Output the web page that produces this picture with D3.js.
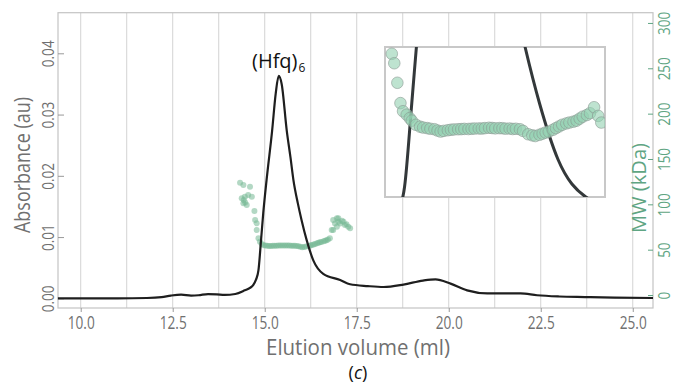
<!DOCTYPE html>
<html>
<head>
<meta charset="utf-8">
<script src="https://cdn.jsdelivr.net/npm/d3@7"></script>
<style>
  html, body { margin: 0; padding: 0; background: #fff; }
  svg { display: block; }
  text { font-family: "Open Sans", sans-serif; }
</style>
</head>
<body>
<svg id="chart" width="677" height="386"></svg>
<script>
// ---------------- DATA ----------------
// Absorbance trace (elution volume in ml, absorbance in au)
const traceVolume = [9.38, 10.0, 11.0, 11.8, 12.2, 12.45, 12.73, 13.0, 13.2, 13.46, 13.7, 13.91, 14.2, 14.46, 14.6, 14.69, 14.76, 14.83, 14.9, 14.96, 15.05, 15.2, 15.3, 15.38, 15.46, 15.6, 15.7, 15.78, 15.9, 16.0, 16.14, 16.32, 16.59, 17.05, 17.32, 17.8, 18.23, 18.77, 19.3, 19.64, 20.05, 20.5, 21.05, 21.6, 21.95, 22.4, 23.0, 23.7, 24.5, 25.55];
const traceAbs = [0.0000, 0.0000, 0.0000, 0.00005, 0.0002, 0.00045, 0.0006, 0.00045, 0.0005, 0.0007, 0.00065, 0.00055, 0.0007, 0.0013, 0.0017, 0.0022, 0.0030, 0.0046, 0.0095, 0.0139, 0.0193, 0.0273, 0.0335, 0.0363, 0.0350, 0.0273, 0.0230, 0.0193, 0.0155, 0.0128, 0.0095, 0.0062, 0.0040, 0.0030, 0.0023, 0.0020, 0.00185, 0.00225, 0.0029, 0.0031, 0.0024, 0.0013, 0.0008, 0.0008, 0.0008, 0.0005, 0.0003, 0.0002, 0.0001, 0.00005];

// Molar-mass points in the main panel (ml, kDa)
const mwVolume = [14.33, 14.42, 14.60, 14.375, 14.46, 14.55, 14.65, 14.42, 14.51, 14.43, 14.47, 14.72, 14.74, 14.78, 14.78, 14.83, 14.87, 14.92, 14.97, 15.02, 15.07, 15.12, 15.17, 15.22, 15.27, 15.32, 15.37, 15.42, 15.47, 15.52, 15.57, 15.62, 15.67, 15.72, 15.77, 15.82, 15.87, 15.92, 15.97, 16.02, 16.07, 16.12, 16.19, 16.24, 16.28, 16.33, 16.37, 16.42, 16.46, 16.5, 16.54, 16.6, 16.64, 16.68, 16.72, 16.77, 16.82, 16.86, 16.91, 16.96, 17.0, 16.86, 17.0, 17.05, 17.14, 17.18, 17.27, 17.32, 16.96, 17.1, 17.22];
const mwValue = [123.9, 121.3, 119.4, 106.6, 108.4, 110.3, 108.4, 101.1, 99.3, 104.8, 102, 92.6, 82.7, 79.1, 71.7, 62.5, 58.8, 56.2, 55, 54.6, 54.4, 54.1, 54, 54.2, 54.4, 54.3, 54.5, 54.6, 54.5, 54.7, 54.6, 54.5, 54.6, 54.3, 54.4, 54.2, 54.1, 53.8, 53.2, 52.6, 52.9, 53.5, 54, 54.6, 55.1, 55.7, 56.2, 57, 57.7, 58.1, 58.5, 59.3, 59.9, 60.5, 61.2, 62.5, 71.7, 82.7, 79, 84.6, 80.8, 71.7, 84.6, 79, 80.8, 77.2, 75.3, 73.6, 75.3, 82, 78];

// Molar-mass points shown in the zoomed inset (ml, kDa)
const insetVolume = [14.706, 14.73, 14.76, 14.79, 14.815, 14.85, 14.88, 14.90, 14.94, 14.98, 15.01, 15.05, 15.08, 15.12, 15.15, 15.18, 15.21, 15.25, 15.28, 15.31, 15.35, 15.38, 15.41, 15.45, 15.48, 15.51, 15.55, 15.58, 15.61, 15.65, 15.68, 15.71, 15.75, 15.78, 15.81, 15.85, 15.88, 15.91, 15.95, 15.98, 16.03, 16.07, 16.1, 16.14, 16.17, 16.2, 16.23, 16.27, 16.3, 16.33, 16.36, 16.4, 16.43, 16.47, 16.5, 16.53, 16.56, 16.6, 16.63, 16.67, 16.71, 16.74];
const insetMW = [122.9, 114.4, 96.8, 78.5, 71.2, 68.1, 65, 62.7, 59, 57.3, 56.5, 56, 55.4, 55, 53.8, 52.9, 53.5, 54.1, 54.5, 54.8, 55, 55.1, 55.3, 55.2, 55.4, 55.6, 55.7, 55.6, 56, 56.3, 56.1, 55.8, 56, 55.9, 55.5, 55.6, 55.2, 55.4, 55, 53.5, 50.5, 49.5, 48.9, 50, 51, 52, 52.8, 54.5, 56, 57.5, 59, 60.2, 61, 61.8, 62.7, 64.5, 66.3, 67.8, 69.4, 74.8, 67, 61];

// Axis ticks
const xTicks = [10.0, 12.5, 15.0, 17.5, 20.0, 22.5, 25.0];
const xGrid = [10.0, 11.25, 12.5, 13.75, 15.0, 16.25, 17.5, 18.75, 20.0, 21.25, 22.5, 23.75, 25.0];
const absTicks = [0.00, 0.01, 0.02, 0.03, 0.04];
const mwTicks = [0, 50, 100, 150, 200, 250, 300];

// ---------------- LAYOUT ----------------
const svg = d3.select("#chart");
const plot = { left: 58, right: 653, top: 12.7, bottom: 308 };
const inset = { left: 385, right: 605, top: 47, bottom: 197 };

const gray = "#707070";
const green = "#5fa583";

const x = d3.scaleLinear().domain([9.383, 25.55]).range([plot.left, plot.right]);
const yAbs = d3.scaleLinear().domain([-0.00158, 0.04663]).range([plot.bottom, plot.top]);
const yMW = d3.scaleLinear().domain([-14.3, 311.3]).range([plot.bottom, plot.top]);

const ix = d3.scaleLinear().domain([14.64, 16.776]).range([inset.left, inset.right]);
const iyAbs = d3.scaleLinear().domain([0.004, 0.0128]).range([inset.bottom, inset.top]);
const iyMW = d3.scaleLinear().domain([-6, 129]).range([inset.bottom, inset.top]);

function condense(sel, len) {
  sel.each(function () {
    d3.select(this).attr("textLength", len).attr("lengthAdjust", "spacingAndGlyphs");
  });
}

// vertical grid lines
svg.append("g").selectAll("line").data(xGrid).join("line")
  .attr("x1", d => x(d)).attr("x2", d => x(d))
  .attr("y1", plot.top).attr("y2", plot.bottom)
  .attr("stroke", "#d3d3d3").attr("stroke-width", 1);

// frame
svg.append("rect")
  .attr("x", plot.left).attr("y", plot.top)
  .attr("width", plot.right - plot.left).attr("height", plot.bottom - plot.top)
  .attr("fill", "none").attr("stroke", "#c4c4c4").attr("stroke-width", 1.2);

// bottom axis
const xAxis = svg.append("g").attr("transform", `translate(0,${plot.bottom})`)
  .call(d3.axisBottom(x).tickValues(xTicks).tickSize(4).tickFormat(d3.format(".1f")));
xAxis.select(".domain").remove();
xAxis.selectAll(".tick line").attr("stroke", "#999");
xAxis.selectAll(".tick text").attr("fill", gray).attr("font-size", 19)
  .attr("font-family", "Open Sans, sans-serif").attr("dy", null).attr("y", 21)
  .call(condense, 27);

// left axis (absorbance)
const yAxisL = svg.append("g").attr("transform", `translate(${plot.left},0)`)
  .call(d3.axisRight(yAbs).tickValues(absTicks).tickSize(6).tickFormat(d3.format(".2f")));
yAxisL.select(".domain").remove();
yAxisL.selectAll(".tick line").attr("stroke", "#999");
yAxisL.selectAll(".tick text")
  .attr("x", null).attr("dy", null)
  .attr("transform", "translate(-11,0) rotate(-90)")
  .attr("text-anchor", "middle").attr("dominant-baseline", "central")
  .attr("fill", gray).attr("font-size", 17).attr("font-family", "Open Sans, sans-serif")
  .call(condense, 27);

// right axis (MW)
const yAxisR = svg.append("g").attr("transform", `translate(${plot.right},0)`)
  .call(d3.axisLeft(yMW).tickValues(mwTicks).tickSize(5));
yAxisR.select(".domain").remove();
yAxisR.selectAll(".tick line").attr("stroke", green);
yAxisR.selectAll(".tick text")
  .attr("x", null).attr("dy", null)
  .attr("transform", "translate(10,0) rotate(-90)")
  .attr("text-anchor", "middle").attr("dominant-baseline", "central")
  .attr("fill", green).attr("font-size", 17).attr("font-family", "Open Sans, sans-serif")
  .each(function (d) {
    const n = String(d).length;
    d3.select(this).attr("textLength", n * 7.7).attr("lengthAdjust", "spacingAndGlyphs");
  });

// axis titles
svg.append("text").text("Absorbance (au)")
  .attr("transform", "translate(22,165) rotate(-90)")
  .attr("text-anchor", "middle").attr("dominant-baseline", "central")
  .attr("fill", gray).attr("font-size", 21).call(condense, 136);

svg.append("text").text("MW (kDa)")
  .attr("transform", "translate(638,188) rotate(-90)")
  .attr("text-anchor", "middle").attr("dominant-baseline", "central")
  .attr("fill", green).attr("font-size", 20).call(condense, 90);

svg.append("text").text("Elution volume (ml)")
  .attr("x", 358).attr("y", 355).attr("text-anchor", "middle")
  .attr("fill", gray).attr("font-size", 21).call(condense, 184);

const cap = svg.append("text").attr("x", 358).attr("y", 379).attr("text-anchor", "middle")
  .attr("font-family", "Liberation Serif, serif").attr("font-size", 18).attr("fill", "#111");
cap.append("tspan").text("(");
cap.append("tspan").attr("font-style", "italic").text("c");
cap.append("tspan").text(")");

// peak label
const pk = svg.append("text").attr("x", 252).attr("y", 68)
  .attr("font-size", 20).attr("fill", "#111");
pk.append("tspan").text("(Hfq)");
pk.append("tspan").attr("font-size", 12).attr("dy", 4).attr("dx", 1).text("6");

// MW scatter (main)
const mwPts = mwVolume.map((v, i) => ({ v, m: mwValue[i] }));
svg.append("g").selectAll("circle").data(mwPts).join("circle")
  .attr("cx", d => x(d.v)).attr("cy", d => yMW(d.m)).attr("r", 3)
  .attr("fill", "#74b894").attr("fill-opacity", 0.55);

// absorbance trace
const trace = traceVolume.map((v, i) => ({ v, a: traceAbs[i] }));
const line = d3.line().x(d => x(d.v)).y(d => yAbs(d.a)).curve(d3.curveMonotoneX);
svg.append("path").datum(trace).attr("d", line)
  .attr("fill", "none").attr("stroke", "#1e1e1e").attr("stroke-width", 2.2);

// ---------------- INSET ----------------
svg.append("defs").append("clipPath").attr("id", "insetClip")
  .append("rect").attr("x", inset.left).attr("y", inset.top)
  .attr("width", inset.right - inset.left).attr("height", inset.bottom - inset.top);

svg.append("rect")
  .attr("x", inset.left).attr("y", inset.top)
  .attr("width", inset.right - inset.left).attr("height", inset.bottom - inset.top)
  .attr("fill", "#fff").attr("stroke", "#c8c8c8").attr("stroke-width", 2);

const ig = svg.append("g").attr("clip-path", "url(#insetClip)");
const iline = d3.line().x(d => ix(d.v)).y(d => iyAbs(d.a)).curve(d3.curveMonotoneX);
ig.append("path").datum(trace).attr("d", iline)
  .attr("fill", "none").attr("stroke", "#33383a").attr("stroke-width", 3);

const insetPts = insetVolume.map((v, i) => ({ v, m: insetMW[i] }));
ig.append("g").selectAll("circle").data(insetPts).join("circle")
  .attr("cx", d => ix(d.v)).attr("cy", d => iyMW(d.m)).attr("r", 5.8)
  .attr("fill", "#93d1b1").attr("fill-opacity", 0.6)
  .attr("stroke", "#8a9a92").attr("stroke-opacity", 0.6).attr("stroke-width", 1);
</script>
</body>
</html>
